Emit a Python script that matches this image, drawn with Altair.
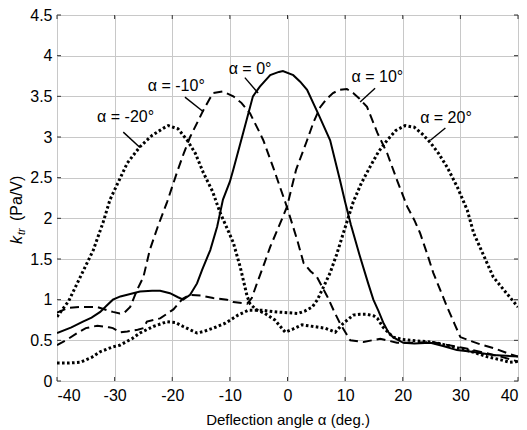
import altair as alt
import pandas as pd

FONT = "Liberation Sans"

# ---- data ----
m20_x = [-40, -38, -36.5, -35, -33.7, -32, -30.8, -29, -27.8, -25.6, -23.5, -21.5, -20.7, -19, -17.4, -16, -14.6, -13,
         -11.7, -10.5, -9.4, -8.2, -7.0, -6.5, -5.5, -3.9, -2.2, -0.4, 1, 2.5, 4.5, 6.5, 8.3, 9.7, 11.4, 12.6, 13.8, 15,
         15.6, 16.6, 18.3, 20, 21.3, 24.8, 27, 29.4, 32, 34.6, 37, 38.6, 40]
m20_y = [0.79, 0.98, 1.2, 1.42, 1.61, 1.95, 2.23, 2.5, 2.68, 2.88, 3.02, 3.11, 3.14, 3.1, 2.96, 2.8, 2.56, 2.33,
         2.07, 1.88, 1.7, 1.4, 1.04, 0.95, 0.88, 0.83, 0.75, 0.6, 0.64, 0.69, 0.67, 0.65, 0.6, 0.71, 0.81, 0.82, 0.82, 0.8,
         0.77, 0.66, 0.54, 0.51, 0.5, 0.48, 0.45, 0.41, 0.36, 0.3, 0.26, 0.23, 0.24]

m10_x = [-40, -38, -36, -33, -31.3, -30.3, -29.1, -28.3, -27.3, -26.1, -25, -23.9, -22.5, -20.9, -19.2, -18, -16.9,
         -15.5, -14.6, -13.5, -12.9, -11.2, -9.4, -8, -6.5, -4.8, -4.2, -2.5, -0.1, 1.7, 2.8, 4, 5.1, 6.9, 8, 9.1, 10.9,
         13.2, 16.1, 19, 22, 25, 28, 31, 34, 37, 40]
m10_y = [0.84, 0.9, 0.91, 0.91, 0.87, 0.85, 0.83, 0.84, 0.91, 1.12, 1.28, 1.61, 1.9, 2.2, 2.56, 2.8, 3.0,
         3.2, 3.33, 3.47, 3.54, 3.56, 3.5, 3.42, 3.29, 3.05, 2.96, 2.63, 2.14, 1.73, 1.45, 1.35, 1.28, 1.04, 0.87, 0.71, 0.5,
         0.48, 0.52, 0.47, 0.47, 0.48, 0.44, 0.4, 0.35, 0.3, 0.24]

z_x = [-40, -37.5, -35.5, -34, -32.5, -31.5, -30.3, -29, -27.8, -25.6, -23.5, -22.1, -20.4, -19, -18.1, -16.9, -15.7,
       -14.8, -13.4, -12.2, -11.2, -10, -9.4, -7.7, -6, -4.8, -3, -1.5, -0.8, 1, 2.2, 3.4, 5.3, 7.4, 9.1, 10, 11, 12.5,
       14, 14.9, 15.8, 16.6, 17.5, 18.3, 20.1, 22, 24.8, 27, 29.4, 32, 35.7, 40]
z_y = [0.59, 0.66, 0.73, 0.78, 0.85, 0.92, 1.0, 1.04, 1.06, 1.1, 1.11, 1.11, 1.08, 1.03, 1.0, 1.06, 1.2,
       1.37, 1.61, 1.9, 2.23, 2.45, 2.6, 3.05, 3.5, 3.62, 3.76, 3.8, 3.81, 3.76, 3.68, 3.58, 3.29, 2.96, 2.47, 2.2, 1.92,
       1.55, 1.2, 1.0, 0.86, 0.72, 0.6, 0.54, 0.47, 0.46, 0.47, 0.43, 0.38, 0.36, 0.32, 0.3]

p10_x = [-40, -38, -36.5, -35, -33, -31, -30.3, -29, -27.8, -26, -25, -24.4, -22.1, -19.8, -18.2, -16.9, -15, -12.9,
         -10.5, -9.4, -7, -6.2, -5.3, -4, -3, -1.5, -0.1, 1.5, 3.4, 4.5, 5.7, 6.8, 7.9, 9, 10.3, 11.4, 12.5, 13.8, 15.6,
         17.3, 19, 20.8, 22, 23, 24.3, 25.3, 26.5, 27.7, 29, 30, 31.5, 33.5, 36, 38.6, 40]
p10_y = [0.44, 0.52, 0.59, 0.65, 0.68, 0.66, 0.65, 0.6, 0.61, 0.63, 0.65, 0.73, 0.77, 0.88, 1.01, 1.06, 1.05, 1.02,
         1.0, 0.97, 0.95, 1.02, 1.2, 1.45, 1.65, 1.9, 2.14, 2.6, 2.96, 3.18, 3.37, 3.47, 3.54, 3.58, 3.59, 3.54, 3.47, 3.37,
         3.05, 2.8, 2.47, 2.14, 1.98, 1.82, 1.55, 1.33, 1.12, 0.91, 0.7, 0.54, 0.5, 0.45, 0.4, 0.33, 0.3]

p20_x = [-40, -38, -36, -34, -32.5, -30.3, -29.1, -27, -25.6, -23.3, -20.9, -19.5, -18.1, -15.7, -14.5, -12.9, -10.8,
         -8.6, -6.8, -4.4, -2.2, 0, 1.8, 3, 4.3, 5.2, 6.0, 7.4, 8.5, 9.7, 11.4, 12.8, 14.3, 15.8, 17.3, 18.8, 20.4, 22,
         23.5, 24.8, 26.2, 27.7, 29.5, 31.2, 32.3, 34, 35.7, 38, 40]
p20_y = [0.22, 0.22, 0.23, 0.29, 0.36, 0.42, 0.44, 0.52, 0.59, 0.67, 0.73, 0.72, 0.67, 0.59, 0.61, 0.65, 0.71,
         0.81, 0.87, 0.87, 0.85, 0.84, 0.83, 0.86, 0.91, 1.0, 1.12, 1.33, 1.55, 1.82, 2.2, 2.43, 2.63, 2.82, 2.96, 3.08,
         3.14, 3.12, 3.03, 2.93, 2.8, 2.63, 2.38, 2.1, 1.82, 1.55, 1.28, 1.08, 0.91]

label_text = ["α = -20°", "α = -10°", "α = 0°", "α = 10°", "α = 20°"]
label_x = [-28.1, -19.3, -6.5, 15.6, 27.5]
label_y = [3.25, 3.63, 3.84, 3.74, 3.23]

lead_x = [-28.5, -17.8, -7.4, 15.2, 27.4]
lead_y = [3.06, 3.49, 3.73, 3.60, 3.11]
lead_x2 = [-25.6, -14.6, -5.1, 12.6, 24.8]
lead_y2 = [2.87, 3.31, 3.54, 3.43, 2.96]

x_ticks = [-40, -30, -20, -10, 0, 10, 20, 30, 40]
y_ticks = [0, 0.5, 1, 1.5, 2, 2.5, 3, 3.5, 4, 4.5]

W, H = 461, 366

xs = alt.Scale(domain=[-40, 40], nice=False, zero=False)
ys = alt.Scale(domain=[0, 4.5], nice=False, zero=False)

x_axis = alt.Axis(values=x_ticks, labelExpr="'' + datum.value", grid=True, ticks=False, domain=False,
                  labelFont=FONT, labelFontSize=16, labelColor="#000", labelPadding=6,
                  title="Deflection angle α (deg.)", titleFont=FONT, titleFontSize=15,
                  titleFontWeight="normal", titleColor="#000", titlePadding=9,
                  gridColor="#c8c8c8", gridWidth=1)
y_axis = alt.Axis(values=y_ticks, labelExpr="'' + datum.value", grid=True, ticks=False, domain=False,
                  labelFont=FONT, labelFontSize=16, labelColor="#000", labelPadding=5, title=None,
                  gridColor="#c8c8c8", gridWidth=1)


def curve(xv, yv, dash, width):
    df = pd.DataFrame({"x": xv, "y": yv})
    kw = dict(color="black", strokeWidth=width, strokeCap="butt", clip=True)
    if dash:
        kw["strokeDash"] = dash
    return alt.Chart(df).mark_line(**kw).encode(
        x=alt.X("x:Q", scale=xs, axis=x_axis),
        y=alt.Y("y:Q", scale=ys, axis=y_axis),
    )


dot = [2.6, 2.4]
dash = [9, 5]
layers = [
    curve(m20_x, m20_y, dot, 3.0),
    curve(m10_x, m10_y, dash, 2.0),
    curve(z_x, z_y, None, 2.0),
    curve(p10_x, p10_y, dash, 2.0),
    curve(p20_x, p20_y, dot, 3.0),
]

# inward ticks on all four sides
xt = pd.DataFrame({"x": x_ticks})
yt = pd.DataFrame({"y": y_ticks})
tick_col = "#333"
layers += [
    alt.Chart(xt).mark_rule(color=tick_col, strokeWidth=1).encode(
        x=alt.X("x:Q", scale=xs), y=alt.value(H), y2=alt.value(H - 4)),
    alt.Chart(xt).mark_rule(color=tick_col, strokeWidth=1).encode(
        x=alt.X("x:Q", scale=xs), y=alt.value(0), y2=alt.value(4)),
    alt.Chart(yt).mark_rule(color=tick_col, strokeWidth=1).encode(
        y=alt.Y("y:Q", scale=ys), x=alt.value(0), x2=alt.value(4)),
    alt.Chart(yt).mark_rule(color=tick_col, strokeWidth=1).encode(
        y=alt.Y("y:Q", scale=ys), x=alt.value(W), x2=alt.value(W - 4)),
]

lab = pd.DataFrame({"t": label_text, "x": label_x, "y": label_y})
layers.append(alt.Chart(lab).mark_text(font=FONT, fontSize=16, color="black", align="center",
                                      baseline="middle").encode(
    x=alt.X("x:Q", scale=xs), y=alt.Y("y:Q", scale=ys), text="t:N"))

lead = pd.DataFrame({"x": lead_x, "y": lead_y, "x2": lead_x2, "y2": lead_y2})
layers.append(alt.Chart(lead).mark_rule(color="black", strokeWidth=1.4).encode(
    x=alt.X("x:Q", scale=xs), y=alt.Y("y:Q", scale=ys), x2="x2:Q", y2="y2:Q"))

# y-axis title: k (italic) with subscript tr, then (Pa/V)
one = pd.DataFrame({"a": [0]})
layers += [
    alt.Chart(one).mark_text(text="k", font=FONT, fontSize=16, fontStyle="italic", angle=270,
                             align="left", baseline="alphabetic", color="black").encode(
        x=alt.value(-35), y=alt.value(229)),
    alt.Chart(one).mark_text(text="tr", font=FONT, fontSize=11, fontStyle="italic", angle=270,
                             align="left", baseline="alphabetic", color="black").encode(
        x=alt.value(-32), y=alt.value(220)),
    alt.Chart(one).mark_text(text="(Pa/V)", font=FONT, fontSize=16, angle=270,
                             align="left", baseline="alphabetic", color="black").encode(
        x=alt.value(-35), y=alt.value(206)),
]

chart = alt.layer(*layers).properties(
    width=W, height=H,
    autosize=alt.AutoSizeParams(type="none"),
    padding={"left": 49, "top": 7, "right": 1, "bottom": 48},
).configure_view(stroke="#444", strokeWidth=1).configure(background="white")

chart.save("out.html", embed_options={"renderer": "svg", "actions": False})
